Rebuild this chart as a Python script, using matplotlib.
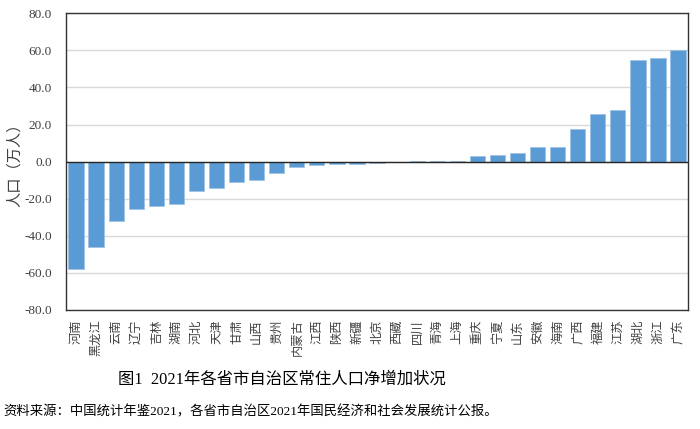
import matplotlib.pyplot as plt
import numpy as np

plt.rcParams['font.family'] = ['Noto Sans CJK SC', 'DejaVu Sans']

provinces = ['河南', '黑龙江', '云南', '辽宁', '吉林', '湖南', '河北', '天津', '甘肃', '山西',
             '贵州', '内蒙古', '江西', '陕西', '新疆', '北京', '西藏', '四川', '青海', '上海',
             '重庆', '宁夏', '山东', '安徽', '海南', '广西', '福建', '江苏', '湖北', '浙江', '广东']
growth = [-58.0, -46.0, -32.0, -25.7, -24.0, -23.0, -16.0, -14.0, -11.0, -10.0,
          -6.2, -2.9, -1.6, -1.2, -1.3, -0.7, 0.0, 0.5, 0.5, 0.5,
          3.2, 3.8, 4.8, 7.8, 8.1, 17.8, 25.7, 28.1, 54.8, 55.8, 60.0]
yticks = np.arange(-80, 81, 20)

fig = plt.figure(figsize=(7, 4.29), dpi=100)
ax = fig.add_axes([0.0943, 0.2774, 0.8887, 0.6916])

x = np.arange(len(provinces))
ax.bar(x, growth, width=0.76, color='#5b9bd5', edgecolor='#9dc3e6', linewidth=0.6, zorder=3)
ax.axhline(0, color='#262626', linewidth=1.0, zorder=4)

ax.set_xlim(-0.5, len(provinces) - 0.5)
ax.set_ylim(-80, 80)
ax.set_yticks(yticks)
ax.set_yticklabels(['%.1f' % v for v in yticks], family='Liberation Serif', fontsize=9.5, color='#404040')
ax.yaxis.grid(True, color='#d9d9d9', linewidth=1.0, zorder=0)
ax.tick_params(axis='y', length=0, pad=10)

ax.set_xticks(x)
ax.set_xticklabels(provinces, fontsize=8.8, color='#404040', rotation=90, ha='center', va='top')
ax.tick_params(axis='x', length=0, pad=7)

for s in ax.spines.values():
    s.set_color('#333333')
    s.set_linewidth(1.0)

ax.set_ylabel('人口（万人）', fontsize=11, color='#404040')
ax.yaxis.set_label_coords(-0.07, 0.5)

fig.text(0.403, 0.115, '图1  2021年各省市自治区常住人口净增加状况', ha='center', va='center',
         fontsize=11.8, color='black', family=['Liberation Serif', 'Noto Sans CJK SC'])
fig.text(0.005, 0.04, '资料来源：中国统计年鉴2021，各省市自治区2021年国民经济和社会发展统计公报。',
         ha='left', va='center', fontsize=9.6, color='black',
         family=['Liberation Serif', 'Noto Sans CJK SC'])

fig.savefig('out.png', dpi=100)
